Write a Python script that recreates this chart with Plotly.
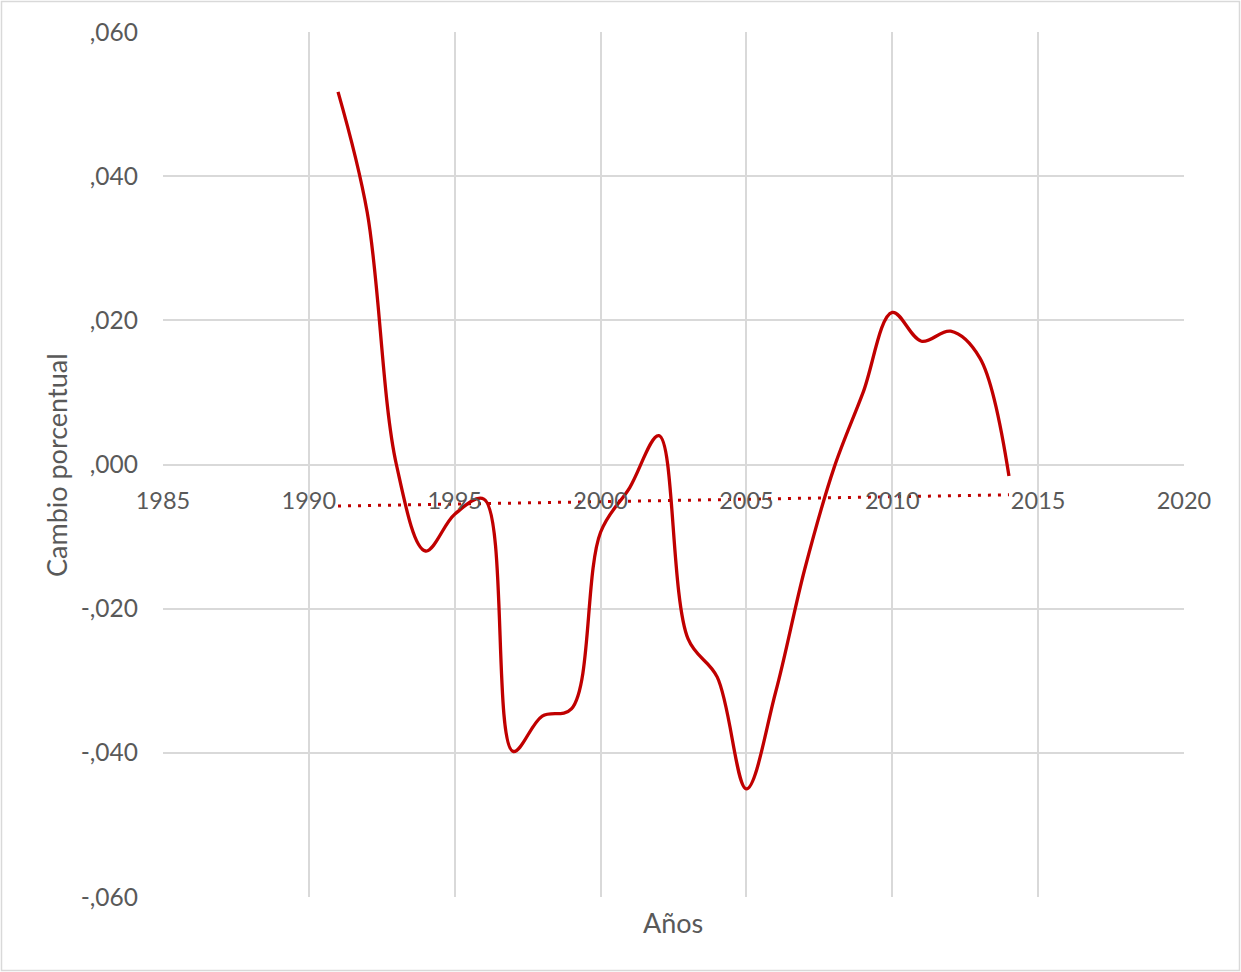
import numpy as np
import plotly.graph_objects as go

years = list(range(1991, 2015))
cambio = [0.0517, 0.0350, 0.0000, -0.0120, -0.0069, -0.0048, -0.0398, -0.0349,
          -0.0339, -0.0094, -0.0032, 0.0040, -0.0242, -0.0295, -0.0450, -0.0316,
          -0.0145, -0.0005, 0.0100, 0.0211, 0.0171, 0.0185, 0.0148, -0.0016]

y_tickvals = [0.06, 0.04, 0.02, 0.0, -0.02, -0.04, -0.06]
y_ticktext = [",060", ",040", ",020", ",000", "-,020", "-,040", "-,060"]
x_tickvals = [1985, 1990, 1995, 2000, 2005, 2010, 2015, 2020]
x_ticktext = ["1985", "1990", "1995", "2000", "2005", "2010", "2015", "2020"]

# linear trendline (as Excel computes it)
slope, intercept = np.polyfit(years, cambio, 1)
trend_x = [years[0], years[-1]]
trend_y = [slope * x + intercept for x in trend_x]

FONT = "Lato"
GRAY = "#595959"
GRID = "#D9D9D9"
RED = "#C00000"

W, H = 1241, 972
L, R, T, B = 163, 57, 32, 75
pw, ph = W - L - R, H - T - B

fig = go.Figure()
fig.add_trace(go.Scatter(x=years, y=cambio, mode="lines",
                         line=dict(color=RED, width=3.3, shape="spline", smoothing=1.0),
                         showlegend=False, hoverinfo="x+y"))
fig.add_trace(go.Scatter(x=trend_x, y=trend_y, mode="lines",
                         line=dict(color=RED, width=3, dash="3px,7px"),
                         showlegend=False, hoverinfo="skip"))

fig.update_layout(
    width=W, height=H,
    margin=dict(l=L, r=R, t=T, b=B, pad=0),
    paper_bgcolor="white", plot_bgcolor="white",
    font=dict(family=FONT, color=GRAY, size=23),
    xaxis=dict(range=[1985, 2020], tickvals=x_tickvals, ticktext=x_ticktext,
               showgrid=True, gridcolor=GRID, gridwidth=1.5,
               zeroline=False, showline=False,
               anchor="free", position=0.5,
               ticks="", ticklabelstandoff=20,
               tickfont=dict(family=FONT, size=23.5, color=GRAY)),
    yaxis=dict(range=[-0.06, 0.06], tickvals=y_tickvals, ticktext=y_ticktext,
               showgrid=True, gridcolor=GRID, gridwidth=1.5,
               zeroline=False, showline=False,
               ticks="", ticklabelstandoff=24,
               tickfont=dict(family=FONT, size=24.5, color=GRAY)),
    shapes=[dict(type="rect", xref="paper", yref="paper",
                 x0=(1.5 - L) / pw, x1=(W - 1.5 - L) / pw,
                 y0=(T + ph - (H - 1.5)) / ph, y1=(T + ph - 1.5) / ph,
                 line=dict(color=GRID, width=1.5), fillcolor="rgba(0,0,0,0)",
                 layer="below")],
    annotations=[
        dict(text="Años", xref="paper", yref="paper",
             x=(673 - L) / pw, y=(T + ph - 922) / ph,
             showarrow=False, xanchor="center", yanchor="middle",
             font=dict(family=FONT, size=27, color=GRAY)),
        dict(text="Cambio porcentual", xref="paper", yref="paper",
             x=(56 - L) / pw, y=(T + ph - 465) / ph, textangle=-90,
             showarrow=False, xanchor="center", yanchor="middle",
             font=dict(family=FONT, size=27, color=GRAY)),
    ],
)

fig.write_html(
    "out.html",
    config={"displayModeBar": False},
    post_script="document.body.style.margin='0';document.body.style.overflow='hidden';",
)
